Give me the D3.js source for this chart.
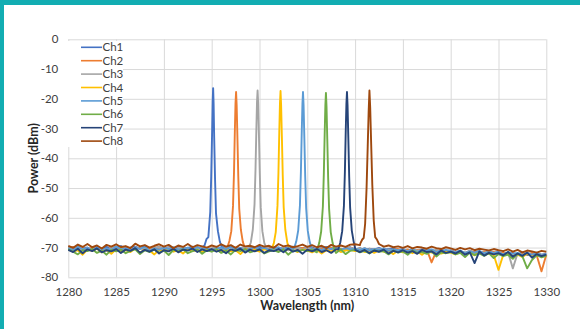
<!DOCTYPE html>
<html><head><meta charset="utf-8">
<script src="https://cdn.jsdelivr.net/npm/d3@7/dist/d3.min.js"></script>
<style>body{margin:0;background:#fff;} svg{display:block;}</style>
</head><body>
<script>
// ---------- DATA ----------
const seriesNames = ["Ch1","Ch2","Ch3","Ch4","Ch5","Ch6","Ch7","Ch8"];
const seriesColors = ["#4472C4","#ED7D31","#A5A5A5","#FFC000","#5B9BD5","#70AD47","#264478","#9E480E"];
const xTicks = [1280,1285,1290,1295,1300,1305,1310,1315,1320,1325,1330];
const yTicks = [0,-10,-20,-30,-40,-50,-60,-70,-80];

const wavelengths = [
1280,1280.5,1281,1281.5,1282,1282.5,1283,1283.5,1284,1284.5,
1285,1285.5,1286,1286.5,1287,1287.5,1288,1288.5,1289,1289.5,
1290,1290.5,1291,1291.5,1292,1292.5,1293,1293.5,1294,1294.5,
1295,1295.5,1296,1296.5,1297,1297.5,1298,1298.5,1299,1299.5,
1300,1300.5,1301,1301.5,1302,1302.5,1303,1303.5,1304,1304.5,
1305,1305.5,1306,1306.5,1307,1307.5,1308,1308.5,1309,1309.5,
1310,1310.5,1311,1311.5,1312,1312.5,1313,1313.5,1314,1314.5,
1315,1315.5,1316,1316.5,1317,1317.5,1318,1318.5,1319,1319.5,
1320,1320.5,1321,1321.5,1322,1322.5,1323,1323.5,1324,1324.5,
1325,1325.5,1326,1326.5,1327,1327.5,1328,1328.5,1329,1329.5,
1330];

const ch1Floor = [
-69.9,-70.6,-69.4,-70.3,-70.0,-70.8,-69.6,-70.4,-69.8,-70.5,
-70.1,-69.5,-70.7,-70.0,-69.7,-70.4,-69.3,-70.6,-70.2,-69.8,
-70.5,-69.9,-70.3,-69.6,-70.8,-70.1,-69.7,-70.4,-69.9,-70.0,
-70.2,-69.8,-70.5,-70.0,-69.6,-70.7,-70.1,-69.9,-70.4,-70.0,
-69.7,-70.5,-70.2,-69.8,-70.6,-70.0,-70.3,-69.7,-70.5,-70.1,
-70.4,-69.9,-70.6,-70.2,-69.8,-70.5,-70.0,-70.7,-70.3,-69.9,
-70.6,-70.2,-70.9,-70.4,-70.7,-70.1,-70.8,-70.5,-70.3,-70.9,
-70.5,-71.0,-70.7,-71.2,-70.6,-71.1,-70.8,-71.4,-70.9,-71.2,
-71.0,-71.5,-71.2,-71.8,-71.1,-71.6,-71.3,-71.9,-71.4,-71.7,
-71.5,-72.2,-71.7,-71.9,-72.3,-71.6,-72.5,-72.0,-71.8,-72.4,
-72.1];
const ch2Floor = [
-70.3,-69.8,-70.7,-70.1,-70.9,-69.9,-70.5,-70.2,-70.8,-70.0,
-70.6,-70.1,-69.9,-70.8,-70.4,-70.0,-70.7,-70.3,-69.8,-70.6,
-70.2,-70.9,-70.1,-70.5,-70.0,-70.8,-70.3,-69.9,-70.6,-70.2,
-70.4,-70.0,-70.7,-70.2,-70.9,-70.1,-70.6,-70.3,-70.0,-70.5,
-70.8,-70.1,-70.4,-70.0,-70.7,-70.3,-70.9,-70.2,-70.5,-70.1,
-70.6,-70.2,-70.9,-70.3,-70.7,-70.0,-70.5,-70.4,-70.8,-70.2,
-70.5,-70.9,-70.3,-71.0,-70.6,-70.8,-70.4,-71.1,-70.7,-70.5,
-71.0,-70.6,-71.3,-70.8,-71.1,-70.7,-75.0,-71.2,-70.9,-71.4,
-71.1,-71.7,-71.3,-71.9,-71.2,-71.6,-71.8,-71.4,-72.0,-71.5,
-72.1,-71.7,-72.4,-71.9,-72.6,-72.0,-72.3,-71.8,-72.7,-78.0,
-72.4];
const ch3Floor = [
-70.0,-70.7,-69.6,-70.5,-70.2,-71.0,-69.8,-70.4,-70.9,-70.1,
-69.7,-70.6,-70.3,-70.8,-69.9,-70.5,-70.1,-71.0,-70.2,-69.8,
-70.6,-70.0,-70.9,-70.3,-69.8,-70.7,-70.2,-70.5,-69.9,-70.8,
-70.3,-69.7,-70.6,-70.1,-70.9,-70.0,-70.4,-69.8,-70.7,-70.2,
-70.5,-69.9,-70.8,-70.2,-70.6,-70.0,-70.9,-70.3,-70.1,-70.7,
-70.0,-70.6,-70.3,-70.9,-70.1,-70.5,-70.2,-70.8,-70.4,-70.0,
-70.7,-70.3,-71.0,-70.5,-70.9,-70.4,-71.1,-70.6,-70.8,-71.0,
-70.6,-71.2,-70.8,-71.0,-71.4,-70.9,-71.3,-70.7,-71.5,-71.1,
-71.0,-71.6,-71.2,-71.8,-71.1,-72.0,-71.4,-71.7,-71.3,-72.1,
-71.8,-72.2,-71.6,-77.0,-71.9,-72.4,-72.0,-72.8,-71.7,-72.5,
-72.3];
const ch4Floor = [
-70.5,-71.3,-70.9,-72.4,-70.7,-71.1,-70.4,-71.6,-70.8,-72.1,
-70.6,-71.2,-70.9,-71.5,-70.3,-71.8,-70.7,-71.0,-72.3,-70.8,
-71.1,-70.5,-71.4,-70.9,-72.0,-70.6,-71.2,-70.8,-71.5,-70.4,
-71.0,-70.7,-71.6,-70.5,-71.3,-70.9,-72.2,-70.6,-71.1,-70.8,
-71.4,-70.6,-71.0,-70.8,-71.7,-70.5,-71.2,-70.9,-71.5,-70.7,
-71.0,-71.6,-70.8,-72.0,-70.9,-71.3,-70.6,-71.5,-71.0,-70.8,
-71.2,-70.7,-71.5,-71.0,-71.8,-70.9,-71.4,-71.1,-72.2,-71.0,
-71.6,-71.1,-71.9,-71.3,-72.4,-71.2,-71.7,-71.4,-72.0,-71.5,
-71.7,-72.3,-71.4,-72.0,-71.8,-72.6,-71.6,-72.2,-71.9,-72.5,
-77.5,-72.4,-72.0,-72.9,-72.3,-73.2,-72.1,-72.8,-72.5,-73.0,
-72.6];
const ch5Floor = [
-70.2,-70.9,-69.8,-70.6,-70.1,-71.0,-69.9,-70.5,-70.3,-70.8,
-69.7,-70.6,-70.2,-70.9,-70.0,-70.4,-69.8,-71.1,-70.3,-70.7,
-70.1,-70.5,-69.9,-70.8,-70.4,-70.0,-70.7,-69.8,-70.6,-70.2,
-70.9,-70.3,-70.0,-70.6,-69.7,-70.5,-70.2,-71.0,-70.4,-69.9,
-70.5,-70.1,-70.8,-70.3,-69.9,-70.7,-70.2,-70.6,-69.8,-70.4,
-70.1,-70.8,-70.3,-70.9,-70.0,-70.5,-69.9,-70.7,-70.2,-70.6,
-70.4,-70.9,-70.2,-71.0,-70.5,-70.8,-70.3,-71.1,-70.6,-70.9,
-70.7,-71.2,-70.5,-71.4,-70.9,-71.0,-70.6,-71.5,-71.1,-70.8,
-71.2,-71.6,-71.0,-71.9,-71.3,-71.7,-71.1,-72.0,-71.4,-71.8,
-71.6,-72.3,-71.5,-72.1,-71.8,-72.6,-71.7,-72.4,-71.9,-72.7,
-72.2];
const ch6Floor = [
-70.6,-71.4,-72.3,-70.9,-71.2,-70.5,-71.8,-71.0,-72.4,-70.8,
-71.3,-70.7,-71.9,-71.1,-70.6,-72.2,-70.9,-71.5,-70.7,-71.7,
-71.0,-72.5,-70.8,-71.3,-70.6,-71.9,-71.2,-70.7,-72.1,-70.9,
-71.4,-70.6,-71.8,-71.0,-72.3,-70.8,-71.2,-70.5,-71.6,-71.1,
-70.7,-72.0,-71.3,-70.9,-71.5,-70.6,-72.4,-71.0,-71.3,-70.8,
-71.2,-70.7,-71.6,-70.9,-71.4,-71.0,-71.8,-70.6,-72.2,-71.1,
-70.8,-71.6,-71.1,-72.0,-70.9,-71.4,-71.2,-72.3,-71.0,-71.7,
-71.3,-72.4,-71.0,-71.8,-71.5,-72.1,-71.2,-73.0,-71.6,-71.9,
-71.5,-72.3,-71.8,-73.2,-71.7,-72.5,-72.0,-72.8,-71.9,-73.5,
-72.2,-72.9,-72.4,-73.8,-72.1,-73.0,-77.0,-74.2,-72.5,-73.3,
-72.8];
const ch7Floor = [
-70.8,-71.5,-70.4,-71.9,-70.6,-71.2,-70.3,-71.6,-70.9,-71.3,
-70.5,-71.8,-70.7,-71.1,-70.2,-71.7,-70.8,-71.4,-70.6,-72.0,
-70.9,-71.3,-70.4,-71.6,-70.7,-71.0,-70.3,-71.5,-70.6,-71.2,
-70.5,-71.4,-70.8,-71.9,-70.6,-71.1,-70.4,-71.7,-70.7,-71.3,
-70.6,-71.8,-70.9,-71.2,-70.5,-71.6,-70.3,-71.4,-70.8,-72.1,
-70.7,-71.3,-70.5,-71.5,-70.9,-71.8,-70.6,-71.2,-70.4,-71.0,
-70.6,-71.5,-70.8,-71.9,-71.0,-71.4,-70.7,-72.0,-71.1,-71.6,
-70.9,-71.7,-71.2,-72.1,-70.8,-71.5,-71.3,-72.3,-71.0,-71.8,
-71.4,-72.0,-71.1,-72.4,-71.6,-75.2,-71.3,-72.7,-71.8,-72.3,
-71.9,-72.6,-71.5,-73.1,-72.0,-72.8,-71.7,-73.4,-72.2,-72.9,
-72.4];
const ch8Floor = [
-69.4,-70.1,-69.0,-69.8,-68.8,-69.9,-69.3,-70.3,-69.1,-69.7,
-68.9,-69.8,-69.5,-70.2,-68.7,-69.6,-69.2,-70.0,-69.4,-68.9,
-69.7,-69.1,-70.2,-69.3,-69.8,-68.8,-69.9,-69.2,-69.6,-70.0,
-69.3,-69.8,-68.9,-69.7,-69.2,-70.1,-69.0,-69.6,-69.4,-69.9,
-69.1,-69.7,-69.4,-70.1,-68.8,-69.6,-69.3,-69.9,-69.5,-69.0,
-69.8,-69.2,-69.9,-69.4,-70.2,-69.1,-69.7,-69.3,-69.8,-69.0,
-68.9,-69.2,-69.0,-69.1,-68.6,-69.4,-69.7,-69.3,-69.9,-69.6,
-70.1,-69.5,-70.3,-69.8,-70.0,-70.4,-69.7,-70.2,-70.5,-69.9,
-70.3,-70.8,-70.1,-70.6,-70.2,-70.9,-70.4,-70.7,-71.0,-70.5,
-70.9,-71.2,-70.6,-71.4,-70.8,-71.6,-71.0,-71.3,-71.7,-71.1,
-71.4];

// peak segments: [wavelength (nm), power (dBm)]
const ch1Peak = [[1294.25,-69.3],[1294.45,-67.2],[1294.65,-66.5],[1294.85,-58.0],[1294.95,-46.0],[1295.05,-30.0],[1295.1,-21.0],[1295.15,-16.4],[1295.2,-21.5],[1295.26,-33.0],[1295.35,-47.0],[1295.45,-58.5],[1295.65,-64.5],[1295.85,-68.0],[1296.05,-69.8]];
const ch2Peak = [[1296.65,-69.8],[1296.85,-67.8],[1297.05,-64.5],[1297.23,-56.0],[1297.33,-45.0],[1297.42,-31.0],[1297.49,-21.5],[1297.55,-17.7],[1297.61,-22.0],[1297.69,-33.0],[1297.78,-46.0],[1297.88,-57.0],[1298.05,-64.0],[1298.25,-68.0],[1298.45,-70.0]];
const ch3Peak = [[1298.9,-70.0],[1299.1,-68.2],[1299.3,-64.0],[1299.48,-55.5],[1299.58,-44.0],[1299.67,-30.5],[1299.74,-21.0],[1299.8,-17.2],[1299.86,-21.5],[1299.94,-32.0],[1300.03,-45.0],[1300.13,-56.5],[1300.3,-64.5],[1300.5,-68.4],[1300.7,-70.1]];
const ch4Peak = [[1301.3,-70.3],[1301.5,-68.5],[1301.7,-64.8],[1301.88,-56.0],[1301.98,-45.0],[1302.07,-31.0],[1302.14,-21.5],[1302.2,-17.4],[1302.26,-22.0],[1302.34,-32.5],[1302.43,-45.5],[1302.53,-56.5],[1302.7,-64.0],[1302.9,-68.2],[1303.1,-70.5]];
const ch5Peak = [[1303.65,-70.0],[1303.85,-67.9],[1304.05,-64.2],[1304.23,-55.8],[1304.33,-44.5],[1304.42,-31.0],[1304.49,-21.8],[1304.55,-17.7],[1304.61,-22.0],[1304.69,-33.0],[1304.78,-46.0],[1304.88,-56.8],[1305.05,-64.4],[1305.25,-68.1],[1305.45,-70.2]];
const ch6Peak = [[1306.05,-70.6],[1306.25,-68.4],[1306.45,-64.6],[1306.63,-56.2],[1306.73,-45.0],[1306.82,-31.5],[1306.89,-22.2],[1306.95,-18.0],[1307.01,-22.5],[1307.09,-33.5],[1307.18,-46.5],[1307.28,-57.0],[1307.45,-64.8],[1307.65,-68.5],[1307.85,-70.8]];
const ch7Peak = [[1308.25,-70.6],[1308.45,-68.3],[1308.65,-64.5],[1308.83,-56.0],[1308.93,-44.8],[1309.02,-31.0],[1309.09,-21.8],[1309.15,-17.7],[1309.21,-22.0],[1309.29,-33.0],[1309.38,-46.0],[1309.48,-56.6],[1309.65,-64.2],[1309.85,-68.0],[1310.05,-70.9]];
const ch8Peak = [[1310.55,-68.6],[1310.75,-67.3],[1310.9,-66.8],[1311.05,-62.0],[1311.2,-50.0],[1311.32,-36.0],[1311.42,-24.0],[1311.5,-17.2],[1311.58,-23.0],[1311.68,-35.0],[1311.8,-49.0],[1311.95,-61.0],[1312.1,-66.5],[1312.3,-67.4],[1312.5,-68.8]];

const floors = [ch1Floor,ch2Floor,ch3Floor,ch4Floor,ch5Floor,ch6Floor,ch7Floor,ch8Floor];
const peaks = [ch1Peak,ch2Peak,ch3Peak,ch4Peak,ch5Peak,ch6Peak,ch7Peak,ch8Peak];

// ---------- CHART ----------
const W = 580, H = 329;
const FONT = "Lato, 'Open Sans', 'Liberation Sans', sans-serif";
const svg = d3.select("body").append("svg").attr("width", W).attr("height", H);

svg.append("rect").attr("width", W).attr("height", H).attr("fill", "#12adb2");
svg.append("rect").attr("x", 4).attr("y", 5).attr("width", W - 4).attr("height", H - 5).attr("fill", "#ffffff");

const x = d3.scaleLinear().domain([1280, 1330]).range([68.3, 546.3]);
const y = d3.scaleLinear().domain([-80, 0]).range([277.3, 39.3]);

// gridlines
const gx = svg.append("g").attr("transform", `translate(0,${y(-80)})`)
  .call(d3.axisBottom(x).tickValues(xTicks).tickSize(-(y(-80) - y(0))).tickFormat(""));
const gy = svg.append("g").attr("transform", `translate(${x(1280)},0)`)
  .call(d3.axisLeft(y).tickValues(yTicks).tickSize(-(x(1330) - x(1280))).tickFormat(""));
[gx, gy].forEach(g => {
  g.select(".domain").remove();
  g.selectAll(".tick line").attr("stroke", "#d9d9d9").attr("stroke-width", 1);
});

// tick labels
const lx = svg.append("g").attr("transform", `translate(0,${y(-80)})`)
  .call(d3.axisBottom(x).tickValues(xTicks).tickSize(0).tickPadding(10.5).tickFormat(d3.format("d")));
const ly = svg.append("g").attr("transform", `translate(${x(1280)},0)`)
  .call(d3.axisLeft(y).tickValues(yTicks).tickSize(0).tickPadding(10).tickFormat(d => d === 0 ? "0" : String(d)));
[lx, ly].forEach(g => {
  g.select(".domain").remove();
  g.selectAll("text").attr("font-family", FONT).attr("font-size", 11.5).attr("fill", "#404040");
});

// series
const line = d3.line().x(d => x(d[0])).y(d => y(d[1]));
const seriesData = floors.map((fl, k) => {
  const pk = peaks[k];
  const lo = pk[0][0], hi = pk[pk.length - 1][0];
  const pts = wavelengths.map((w, i) => [w, fl[i]]).filter(d => d[0] < lo || d[0] > hi);
  return pts.concat(pk).sort((a, b) => a[0] - b[0]);
});
svg.append("g").selectAll("path").data(seriesData).join("path")
  .attr("d", line).attr("fill", "none")
  .attr("stroke", (d, i) => seriesColors[i])
  .attr("stroke-width", 1.9).attr("stroke-linejoin", "round");

// axis titles
svg.append("text").attr("x", (x(1280) + x(1330)) / 2).attr("y", 310)
  .attr("text-anchor", "middle").attr("font-family", FONT).attr("font-weight", "bold")
  .attr("font-size", 12.5).attr("fill", "#262626").text("Wavelength (nm)");
svg.append("text").attr("transform", `translate(37.5,${(y(0) + y(-80)) / 2}) rotate(-90)`)
  .attr("text-anchor", "middle").attr("font-family", FONT).attr("font-weight", "bold")
  .attr("font-size", 12.5).attr("fill", "#262626").text("Power (dBm)");

// legend
const leg = svg.append("g");
leg.append("rect").attr("x", 67).attr("y", 41).attr("width", 56).attr("height", 106).attr("fill", "#ffffff");
seriesNames.forEach((n, i) => {
  const cy = 47.3 + i * 13.4;
  leg.append("line").attr("x1", 81).attr("x2", 102).attr("y1", cy).attr("y2", cy)
    .attr("stroke", seriesColors[i]).attr("stroke-width", 1.6);
  leg.append("text").attr("x", 102.5).attr("y", cy).attr("dy", "0.36em")
    .attr("font-family", FONT).attr("font-size", 11.5).attr("fill", "#404040").text(n);
});
</script>
</body></html>
